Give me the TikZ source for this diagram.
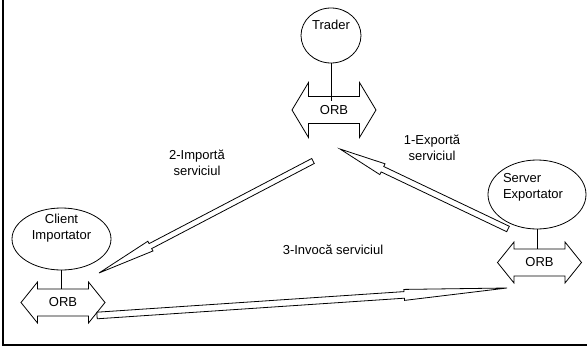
\documentclass[tikz,border=0pt]{standalone}
\usepackage{fontspec}
\setmainfont{Liberation Sans}
\usetikzlibrary{calc,shapes.geometric}

\tikzset{
  line/.style={draw=black, line width=0.8pt},
  ell/.style={ellipse, draw=black, line width=0.8pt, inner sep=0pt, outer sep=0pt},
  lbl/.style={font=\fontsize{13}{16}\selectfont, align=center, inner sep=0pt},
  orbbox/.style={rectangle, inner sep=0pt, outer sep=0pt, minimum width=51pt,
    minimum height=27pt, font=\fontsize{13}{16}\selectfont},
  blk/.style={draw=black, line width=0.8pt, fill=white, line join=miter},
}

% double-headed ORB outline around a shaft node: #1 node, #2 head half-height
\newcommand{\orbarrow}[2]{%
  \draw[line] (#1.north west) -- (#1.north east) -- ([yshift=#2]#1.east)
    -- ([xshift=16.5pt]#1.east) -- ([yshift=-#2]#1.east) -- (#1.south east)
    -- (#1.south west) -- ([yshift=-#2]#1.west) -- ([xshift=-16.5pt]#1.west)
    -- ([yshift=#2]#1.west) -- cycle;}

% hollow block arrow: #1 tail, #2 tip, #3 shaft half-width, #4 head half-width, #5 head length
\newcommand{\blockarrow}[5]{%
  \draw[blk] let \p1=($(#2)-(#1)$), \n1={atan2(\y1,\x1)}, \n2={veclen(\x1,\y1)-#5pt} in
    ($(#1)+(\n1+90:#3pt)$) -- ($(#1)+(\n1:\n2)+(\n1+90:#3pt)$)
    -- ($(#1)+(\n1:\n2)+(\n1+90:#4pt)$) -- (#2)
    -- ($(#1)+(\n1:\n2)+(\n1-90:#4pt)$) -- ($(#1)+(\n1:\n2)+(\n1-90:#3pt)$)
    -- ($(#1)+(\n1-90:#3pt)$) -- cycle;}

\begin{document}
\begin{tikzpicture}[x=1pt,y=-1pt]
\useasboundingbox (0,0) rectangle (587,346);
\fill[white] (0,0) rectangle (587,346);

% page frame (left and bottom edges)
\draw[line width=2.3pt] (3,0) -- (3,345);
\draw[line width=2pt] (1.85,345) -- (587,345);

% Trader
\node[ell, minimum width=60pt, minimum height=55pt] (trader) at (331,35.5) {};
\node[lbl] (traderT) at (331,25) {Trader};
\node[orbbox] (orbT) at (334,110) {ORB};
\orbarrow{orbT}{27.5pt}
\draw[line] (trader.south) -- ([yshift=-4pt]trader.south |- orbT.north);

% Client Importator
\node[ell, minimum width=99pt, minimum height=62pt] (client) at (61.5,239) {};
\node[lbl] (clientT) at (61.5,228) {Client\\Importator};
\node[orbbox] (orbC) at (63,302.5) {ORB};
\orbarrow{orbC}{20.5pt}
\draw[line] (client.south) -- (client.south |- orbC.north);

% Server Exportator
\node[ell, minimum width=98pt, minimum height=69pt] (server) at (537,194.5) {};
\node[lbl, align=left] (serverT) at (533,187) {Server\\Exportator};
\node[orbbox] (orbS) at (539.5,262.5) {ORB};
\orbarrow{orbS}{20.5pt}
\draw[line] (server.south) -- (server.south |- orbS.north);

% arrow end points
\coordinate (expTail) at (508,229);
\coordinate (expTip)  at (340,149);
\coordinate (impTail) at (313,161);
\coordinate (impTip)  at (99,273);
\coordinate (invTail) at (97,315.5);
\coordinate (invTip)  at (507,288);

\blockarrow{expTail}{expTip}{3}{6}{47}
\blockarrow{impTail}{impTip}{2.8}{5.5}{58}
\blockarrow{invTail}{invTip}{3.3}{5.5}{103}

% labels
\node[lbl] (expL) at (432,147.5) {1-Exportă\\serviciul};
\node[lbl] (impL) at (197,163) {2-Importă\\serviciul};
\node[lbl] (invL) at (333,250) {3-Invocă serviciul};
\end{tikzpicture}
\end{document}
